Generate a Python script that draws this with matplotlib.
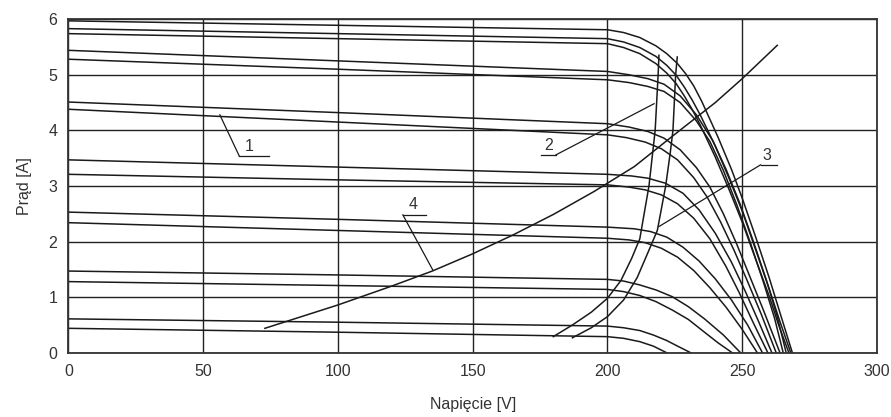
import matplotlib.pyplot as plt

plt.rcParams['font.family'] = ['Liberation Sans', 'DejaVu Sans']

# I-V characteristics (voltage V, current A)
curve_597 = [(0, 5.97), (100, 5.89), (200, 5.81), (206, 5.76), (212, 5.67), (218, 5.52), (222, 5.38),
             (226, 5.2), (229, 5.02), (232, 4.8), (235, 4.52), (241, 3.88), (246, 3.3), (250, 2.78),
             (255, 2.08), (260, 1.35), (264, 0.72), (268.6, 0)]
curve_583 = [(0, 5.83), (100, 5.74), (200, 5.65), (206, 5.59), (212, 5.49), (218, 5.33), (222, 5.17),
             (225.5, 4.99), (228.5, 4.78), (231.5, 4.54), (234.5, 4.27), (240, 3.72), (245, 3.15),
             (250, 2.55), (255, 1.85), (260, 1.15), (264, 0.56), (268, 0)]
curve_574 = [(0, 5.74), (100, 5.65), (200, 5.56), (206, 5.49), (212, 5.38), (218, 5.2), (222, 5.03),
             (225.5, 4.84), (228.5, 4.62), (231.5, 4.37), (234.5, 4.09), (240, 3.52), (245, 2.95),
             (250, 2.35), (255, 1.68), (260, 1.02), (263.5, 0.5), (267.3, 0)]
curve_544 = [(0, 5.44), (100, 5.25), (200, 5.06), (208, 5.0), (215, 4.93), (221, 4.83), (227, 4.62),
             (233, 4.28), (239, 3.82), (244, 3.3), (249, 2.7), (254, 2.02), (259, 1.3), (263, 0.65),
             (266.3, 0)]
curve_528 = [(0, 5.28), (100, 5.1), (200, 4.91), (208, 4.86), (215, 4.79), (221, 4.7), (227, 4.5),
             (233, 4.17), (238, 3.8), (243, 3.28), (248, 2.66), (253, 1.98), (258, 1.25), (262, 0.62),
             (265.2, 0)]
curve_451 = [(0, 4.51), (100, 4.32), (200, 4.12), (208, 4.06), (215, 3.98), (221, 3.86), (227, 3.65),
             (233, 3.33), (238, 2.98), (243, 2.5), (248, 1.95), (253, 1.35), (258, 0.75), (264, 0)]
curve_438 = [(0, 4.38), (100, 4.15), (200, 3.92), (207, 3.87), (214, 3.79), (220, 3.67), (226, 3.47),
             (232, 3.15), (237, 2.8), (242, 2.35), (247, 1.84), (252, 1.28), (257, 0.7), (262.6, 0)]
curve_347 = [(0, 3.47), (100, 3.34), (200, 3.21), (209, 3.18), (215, 3.14), (221.5, 3.05), (228, 2.87),
             (234, 2.57), (240, 2.15), (246, 1.63), (251, 1.12), (256, 0.57), (261, 0)]
curve_321 = [(0, 3.21), (100, 3.11), (200, 3.02), (208, 2.98), (214, 2.93), (220, 2.84), (226, 2.68),
             (232, 2.42), (238, 2.05), (244, 1.55), (249, 1.07), (254, 0.55), (259.5, 0)]
curve_253 = [(0, 2.53), (100, 2.4), (200, 2.26), (210, 2.23), (216, 2.18), (222, 2.08), (228, 1.9),
             (234, 1.65), (240, 1.33), (246, 0.95), (252, 0.5), (257.5, 0)]
curve_234 = [(0, 2.34), (100, 2.2), (200, 2.06), (208, 2.03), (214, 1.98), (220, 1.88), (226, 1.72),
             (232, 1.48), (238, 1.17), (244, 0.82), (250, 0.42), (255.6, 0)]
curve_147 = [(0, 1.47), (100, 1.4), (200, 1.32), (206, 1.29), (212, 1.22), (218, 1.13), (224, 1.01),
             (230, 0.83), (236, 0.61), (243, 0.32), (249.4, 0)]
curve_128 = [(0, 1.28), (100, 1.21), (200, 1.14), (206, 1.1), (212, 1.03), (218, 0.92), (224, 0.77),
             (230, 0.6), (236, 0.37), (241, 0.18), (246.3, 0)]
curve_061 = [(0, 0.61), (100, 0.55), (200, 0.48), (206, 0.45), (212, 0.4), (217, 0.32), (222, 0.22),
             (226, 0.12), (230.9, 0)]
curve_044 = [(0, 0.44), (100, 0.37), (200, 0.29), (206, 0.26), (212, 0.2), (217, 0.12), (222, 0)]

iv_curves = [curve_597, curve_583, curve_574, curve_544, curve_528, curve_451, curve_438,
             curve_347, curve_321, curve_253, curve_234, curve_147, curve_128, curve_061, curve_044]

# lines 2 and 3 (maximum power point tracks) and 4 (load)
line2_v = [179.9, 187, 194, 200, 205, 209, 212, 215.4, 217.7, 218.8, 219.1]
line2_i = [0.29, 0.5, 0.73, 0.98, 1.3, 1.7, 2.05, 3.0, 4.0, 5.0, 5.35]
line3_v = [187, 194, 200, 206, 211, 215, 218.5, 221.6, 223.3, 224.3, 225.3, 225.9]
line3_i = [0.27, 0.45, 0.65, 0.95, 1.35, 1.8, 2.2, 3.0, 3.6, 4.0, 5.0, 5.32]
line4_v = [72.9, 100, 120, 135, 150, 165, 180, 195, 210, 225, 240, 250, 263]
line4_i = [0.44, 0.86, 1.2, 1.47, 1.78, 2.12, 2.49, 2.9, 3.35, 3.93, 4.5, 4.93, 5.53]

# labels: text, text position, underline start/end, leader end
labels = ['1', '2', '3', '4']
label_xy = [(67.0, 3.57), (178.3, 3.6), (259.3, 3.42), (127.8, 2.53)]
underline_x = [(63.4, 74.5), (175.3, 180.9), (256.8, 263), (124.1, 132.7)]
underline_y = [3.54, 3.56, 3.38, 2.48]
leader_from = [(63.4, 3.54), (180.9, 3.56), (256.8, 3.38), (124.1, 2.48)]
leader_to = [(56.2, 4.28), (217.3, 4.48), (219.1, 2.27), (135.2, 1.49)]

fig = plt.figure(figsize=(8.91, 4.17), dpi=100)
ax = fig.add_axes([0.0767, 0.154, 0.9076, 0.8])

lc = '#1a1a1a'
for c in iv_curves:
    ax.plot([p[0] for p in c], [p[1] for p in c], color=lc, lw=1.1)

ax.plot(line2_v, line2_i, color=lc, lw=1.1)
ax.plot(line3_v, line3_i, color=lc, lw=1.1)
ax.plot(line4_v, line4_i, color=lc, lw=1.1)

for k in range(len(labels)):
    ax.text(label_xy[k][0], label_xy[k][1], labels[k], fontsize=11.5, color='#333333',
            ha='center', va='bottom')
    ax.plot(underline_x[k], [underline_y[k], underline_y[k]], color=lc, lw=0.9)
    ax.plot([leader_from[k][0], leader_to[k][0]], [leader_from[k][1], leader_to[k][1]],
            color=lc, lw=0.9)

ax.set_xlim(0, 300)
ax.set_ylim(0, 6)
ax.set_xticks([0, 50, 100, 150, 200, 250, 300])
ax.set_yticks([0, 1, 2, 3, 4, 5, 6])
ax.grid(True, color='#222222', lw=1.0)
ax.set_axisbelow(True)
ax.tick_params(length=0, labelsize=11.5, labelcolor='#333333', pad=8)
for s in ax.spines.values():
    s.set_color('#333333')
    s.set_linewidth(1.3)

ax.set_xlabel('Napięcie [V]', fontsize=11.5, color='#333333', labelpad=13)
ax.set_ylabel('Prąd [A]', fontsize=11.5, color='#333333', labelpad=12)

fig.savefig('out.png', dpi=100)
